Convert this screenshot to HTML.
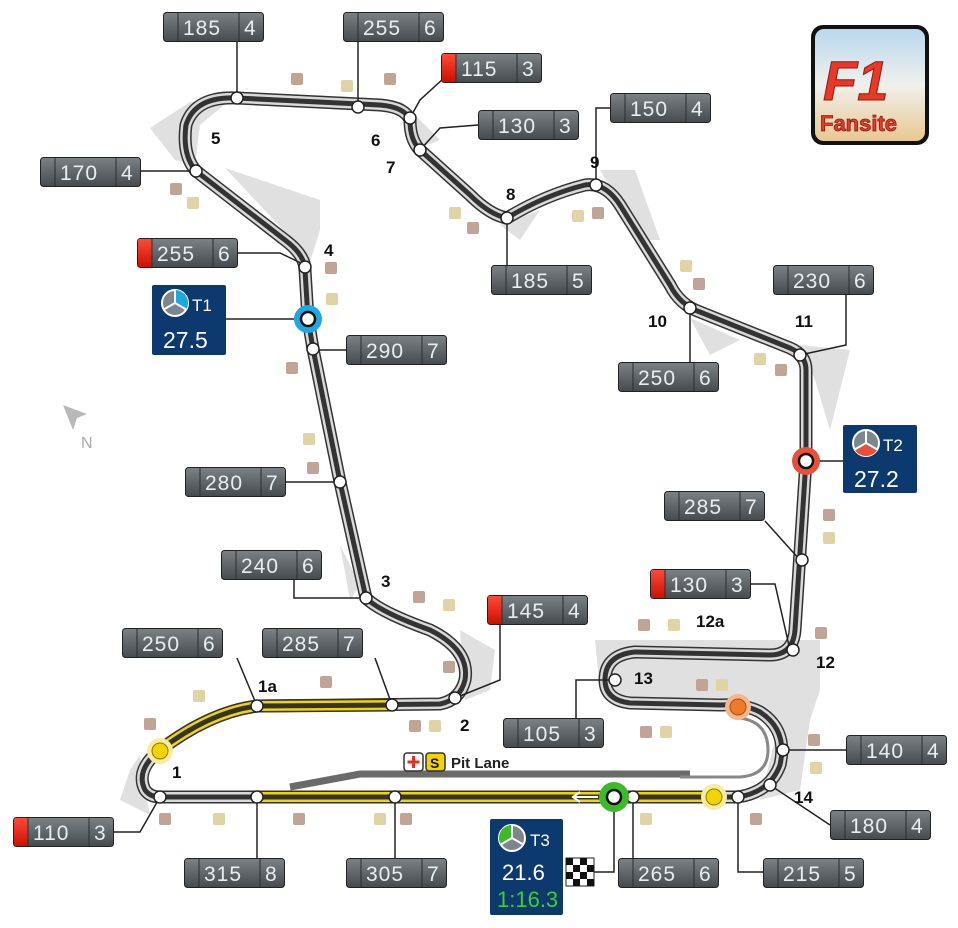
<!DOCTYPE html>
<html><head><meta charset="utf-8"><style>
html,body{margin:0;padding:0;background:#fff;width:958px;height:928px;overflow:hidden}
svg{display:block}
.d{font-family:"Liberation Sans",sans-serif;font-size:21px;fill:#e8eef0;letter-spacing:1px}
.n{font-family:"Liberation Sans",sans-serif;font-size:17px;font-weight:bold;fill:#111}
</style></head><body>
<svg width="958" height="928" viewBox="0 0 958 928" xmlns="http://www.w3.org/2000/svg">
<defs>
<linearGradient id="lg" x1="0" y1="0" x2="0" y2="1"><stop offset="0" stop-color="#7b8286"/><stop offset="1" stop-color="#454a4e"/></linearGradient>
<linearGradient id="rg" x1="0" y1="0" x2="0" y2="1"><stop offset="0" stop-color="#ff4a3a"/><stop offset="1" stop-color="#cc1000"/></linearGradient>
<linearGradient id="fl" x1="0" y1="0" x2="0" y2="1"><stop offset="0" stop-color="#b8d8ee"/><stop offset="0.5" stop-color="#f0f0ec"/><stop offset="1" stop-color="#e8c890"/></linearGradient>
<g id="lab"><rect x="0.5" y="0.5" width="100" height="29" rx="3" fill="url(#lg)" stroke="#222"/><line x1="15" y1="1" x2="15" y2="29" stroke="#2a2e30"/><line x1="76" y1="1" x2="76" y2="29" stroke="#2a2e30"/></g>
<g id="labr"><rect x="0.5" y="0.5" width="100" height="29" rx="3" fill="url(#lg)" stroke="#222"/><rect x="1" y="1" width="14" height="28" rx="2" fill="url(#rg)"/><line x1="15" y1="1" x2="15" y2="29" stroke="#2a2e30"/><line x1="76" y1="1" x2="76" y2="29" stroke="#2a2e30"/></g>
<path id="trk" d="M160 797 L738 797 Q770 792 780 765 Q788 730 760 712 Q745 704 720 705 L630 703 Q605 700 605 680 Q605 655 635 652 L770 655 Q793 655 795 630 L806 460 L806 370 Q806 355 790 348 L700 312 Q680 305 670 285 L620 205 Q605 182 585 185 Q545 195 507 218 Q490 215 470 195 L420 150 Q410 140 410 120 Q405 107 380 105 L237 98 Q195 96 186 125 Q182 155 196 171 L285 240 Q305 255 305 270 L308 319 L313 349 L340 482 L366 598 Q380 612 430 630 Q470 650 465 680 Q460 700 440 704 L257 706 Q210 712 160 750 Q135 770 145 790 Q150 797 160 797 Z"/>
<path id="yel1" d="M160 750 Q210 712 257 706 L392 705"/>
<path id="yel2" d="M257 797 L715 797"/>
</defs>

<!-- runoff areas -->
<g fill="#e0e0e0">
<path d="M150 128 L190 102 L230 100 L200 125 L195 165 L175 160 Z"/>
<path d="M225 168 L320 200 L320 230 L310 262 L285 232 Z"/>
<path d="M400 100 L440 140 L420 148 Z"/>
<path d="M500 225 L540 210 L520 240 Z"/>
<path d="M600 170 L635 170 L660 240 L640 240 Z"/>
<path d="M690 318 L740 340 L710 355 Z"/>
<path d="M800 345 L850 350 L830 430 L815 380 Z"/>
<path d="M340 545 L360 585 L350 600 Z"/>
<path d="M460 630 L495 650 L490 690 L465 700 Z"/>
<path d="M140 755 L130 770 L120 800 L150 815 L145 790 Z"/>
<path d="M595 640 L820 640 L820 690 L810 720 L800 790 L760 800 L780 720 L720 700 L640 700 L600 690 Z"/>
</g>

<!-- pit lane -->
<path d="M290 787 L360 774 L690 774" stroke="#6a6a6a" stroke-width="7" fill="none"/>
<path d="M360 781 L620 781" stroke="#ffffff" stroke-width="2" fill="none"/>
<path d="M680 777 L740 777 Q768 775 768 750 Q768 722 740 718" stroke="#888" stroke-width="3" fill="none"/>

<!-- track -->
<g fill="none" stroke-linecap="round" stroke-linejoin="round">
<use href="#trk" stroke="#333" stroke-width="13"/>
<use href="#trk" stroke="#d9d9d9" stroke-width="10"/>
<use href="#trk" stroke="#333" stroke-width="5"/>
<use href="#yel1" stroke="#333" stroke-width="13"/>
<use href="#yel1" stroke="#f2d400" stroke-width="10"/>
<use href="#yel1" stroke="#333" stroke-width="5"/>
<use href="#yel2" stroke="#333" stroke-width="13"/>
<use href="#yel2" stroke="#f2d400" stroke-width="10"/>
<use href="#yel2" stroke="#333" stroke-width="5"/>
</g>
<path d="M598 797 L574 797 M580 792 L573 797 L580 802" stroke="#fff" stroke-width="2" fill="none"/>

<!-- connector lines -->
<g stroke="#222" stroke-width="1.5" fill="none">
<path d="M237 42 V98"/><path d="M358 42 V107"/><path d="M455 68 L420 100 L410 118"/>
<path d="M478 125 L440 128 L420 150"/><path d="M610 108 H596 V185"/><path d="M141 171 H196"/>
<path d="M238 253 H280 L305 265"/><path d="M226 319 H308"/><path d="M346 350 H313"/>
<path d="M507 265 V218"/><path d="M846 295 V345 L800 355"/><path d="M690 362 V308"/>
<path d="M806 461 H843"/><path d="M286 482 H340"/><path d="M765 521 L800 560"/>
<path d="M294 580 V598 H366"/><path d="M751 584 H775 L790 650"/><path d="M500 625 V680 L455 698"/>
<path d="M237 658 L257 706"/><path d="M375 658 L392 705"/><path d="M576 718 V680 H615"/>
<path d="M783 750 H846"/><path d="M770 785 L830 825"/><path d="M114 832 H140 L160 797"/>
<path d="M257 797 V858"/><path d="M395 797 V858"/><path d="M633 797 V858"/>
<path d="M738 797 V872 H763"/><path d="M594 872 H614 V797"/>
</g>

<!-- markers -->
<g fill="#fff" stroke="#222" stroke-width="1.5">
<circle cx="237" cy="98" r="6"/><circle cx="358" cy="107" r="6"/><circle cx="410" cy="118" r="6"/>
<circle cx="420" cy="150" r="6"/><circle cx="596" cy="185" r="6"/><circle cx="196" cy="171" r="6"/>
<circle cx="305" cy="267" r="6"/><circle cx="313" cy="349" r="6"/><circle cx="507" cy="218" r="6"/>
<circle cx="800" cy="355" r="6"/><circle cx="690" cy="308" r="6"/><circle cx="340" cy="482" r="6"/>
<circle cx="802" cy="560" r="6"/><circle cx="366" cy="598" r="6"/><circle cx="793" cy="650" r="6"/>
<circle cx="455" cy="698" r="6"/><circle cx="257" cy="706" r="6"/><circle cx="392" cy="705" r="6"/>
<circle cx="615" cy="680" r="6"/><circle cx="783" cy="750" r="6"/><circle cx="770" cy="785" r="6"/>
<circle cx="160" cy="797" r="6"/><circle cx="257" cy="797" r="6"/><circle cx="395" cy="797" r="6"/>
<circle cx="633" cy="797" r="6"/><circle cx="738" cy="797" r="6"/>
</g>
<circle cx="308" cy="319" r="14" fill="#1ea8df"/><circle cx="308" cy="319" r="7" fill="#fff" stroke="#111" stroke-width="2.5"/>
<circle cx="806" cy="461" r="14" fill="#e8503a"/><circle cx="806" cy="461" r="7" fill="#fff" stroke="#111" stroke-width="2.5"/>
<circle cx="614" cy="797" r="15" fill="#3cba2a"/><circle cx="614" cy="797" r="7" fill="#fff" stroke="#111" stroke-width="2.5"/>
<circle cx="738" cy="707" r="13" fill="#f6b58a"/><circle cx="738" cy="707" r="8" fill="#f07a28" stroke="#a05018" stroke-width="1"/>
<circle cx="160" cy="751" r="13" fill="#f7eca0"/><circle cx="160" cy="751" r="8" fill="#f2d400" stroke="#8a7a00" stroke-width="1"/>
<circle cx="714" cy="797" r="13" fill="#f7eca0"/><circle cx="714" cy="797" r="8" fill="#f2d400" stroke="#8a7a00" stroke-width="1"/>

<!-- small squares -->
<g>
<g fill="#c0a496">
<rect x="291" y="73" width="12" height="12" rx="2"/><rect x="384" y="73" width="12" height="12" rx="2"/><rect x="170" y="183" width="12" height="12" rx="2"/>
<rect x="467" y="222" width="12" height="12" rx="2"/><rect x="592" y="207" width="12" height="12" rx="2"/><rect x="325" y="262" width="12" height="12" rx="2"/>
<rect x="693" y="278" width="12" height="12" rx="2"/><rect x="286" y="362" width="12" height="12" rx="2"/><rect x="775" y="364" width="12" height="12" rx="2"/>
<rect x="307" y="462" width="12" height="12" rx="2"/><rect x="823" y="509" width="12" height="12" rx="2"/><rect x="413" y="591" width="12" height="12" rx="2"/>
<rect x="638" y="619" width="12" height="12" rx="2"/><rect x="815" y="627" width="12" height="12" rx="2"/><rect x="443" y="661" width="12" height="12" rx="2"/>
<rect x="320" y="676" width="12" height="12" rx="2"/><rect x="696" y="679" width="12" height="12" rx="2"/><rect x="409" y="720" width="12" height="12" rx="2"/>
<rect x="144" y="718" width="12" height="12" rx="2"/><rect x="640" y="726" width="12" height="12" rx="2"/><rect x="808" y="734" width="12" height="12" rx="2"/>
<rect x="159" y="813" width="12" height="12" rx="2"/><rect x="293" y="813" width="12" height="12" rx="2"/><rect x="400" y="813" width="12" height="12" rx="2"/>
<rect x="750" y="813" width="12" height="12" rx="2"/>
</g>
<g fill="#e0d4a6">
<rect x="341" y="80" width="12" height="12" rx="2"/><rect x="187" y="197" width="12" height="12" rx="2"/><rect x="449" y="207" width="12" height="12" rx="2"/>
<rect x="572" y="210" width="12" height="12" rx="2"/><rect x="326" y="293" width="12" height="12" rx="2"/><rect x="680" y="260" width="12" height="12" rx="2"/>
<rect x="754" y="353" width="12" height="12" rx="2"/><rect x="303" y="433" width="12" height="12" rx="2"/><rect x="823" y="532" width="12" height="12" rx="2"/>
<rect x="443" y="599" width="12" height="12" rx="2"/><rect x="668" y="619" width="12" height="12" rx="2"/><rect x="429" y="720" width="12" height="12" rx="2"/>
<rect x="716" y="679" width="12" height="12" rx="2"/><rect x="193" y="690" width="12" height="12" rx="2"/><rect x="660" y="726" width="12" height="12" rx="2"/>
<rect x="810" y="762" width="12" height="12" rx="2"/><rect x="213" y="813" width="12" height="12" rx="2"/><rect x="374" y="813" width="12" height="12" rx="2"/>
<rect x="640" y="813" width="12" height="12" rx="2"/>
</g>
</g>

<!-- corner numbers -->
<g>
<text x="211" y="144" class="n">5</text><text x="371" y="146" class="n">6</text><text x="386" y="173" class="n">7</text>
<text x="506" y="200" class="n">8</text><text x="590" y="168" class="n">9</text><text x="648" y="327" class="n">10</text>
<text x="795" y="327" class="n">11</text><text x="324" y="256" class="n">4</text><text x="381" y="587" class="n">3</text>
<text x="460" y="731" class="n">2</text><text x="258" y="692" class="n">1a</text><text x="172" y="778" class="n">1</text>
<text x="696" y="627" class="n">12a</text><text x="816" y="668" class="n">12</text><text x="634" y="684" class="n">13</text>
<text x="794" y="803" class="n">14</text>
</g>

<!-- labels -->
<g><use href="#lab" x="163" y="12"/><text class="d" x="183" y="35">185</text><text class="d" x="244" y="35">4</text></g>
<g><use href="#lab" x="343" y="12"/><text class="d" x="363" y="35">255</text><text class="d" x="424" y="35">6</text></g>
<g><use href="#labr" x="441" y="53"/><text class="d" x="461" y="76">115</text><text class="d" x="522" y="76">3</text></g>
<g><use href="#lab" x="478" y="110"/><text class="d" x="498" y="133">130</text><text class="d" x="559" y="133">3</text></g>
<g><use href="#lab" x="610" y="93"/><text class="d" x="630" y="116">150</text><text class="d" x="691" y="116">4</text></g>
<g><use href="#lab" x="40" y="157"/><text class="d" x="60" y="180">170</text><text class="d" x="121" y="180">4</text></g>
<g><use href="#labr" x="137" y="238"/><text class="d" x="157" y="261">255</text><text class="d" x="218" y="261">6</text></g>
<g><use href="#lab" x="346" y="335"/><text class="d" x="366" y="358">290</text><text class="d" x="427" y="358">7</text></g>
<g><use href="#lab" x="491" y="265"/><text class="d" x="511" y="288">185</text><text class="d" x="572" y="288">5</text></g>
<g><use href="#lab" x="773" y="265"/><text class="d" x="793" y="288">230</text><text class="d" x="854" y="288">6</text></g>
<g><use href="#lab" x="618" y="362"/><text class="d" x="638" y="385">250</text><text class="d" x="699" y="385">6</text></g>
<g><use href="#lab" x="185" y="467"/><text class="d" x="205" y="490">280</text><text class="d" x="266" y="490">7</text></g>
<g><use href="#lab" x="664" y="491"/><text class="d" x="684" y="514">285</text><text class="d" x="745" y="514">7</text></g>
<g><use href="#lab" x="221" y="550"/><text class="d" x="241" y="573">240</text><text class="d" x="302" y="573">6</text></g>
<g><use href="#labr" x="650" y="569"/><text class="d" x="670" y="592">130</text><text class="d" x="731" y="592">3</text></g>
<g><use href="#labr" x="487" y="595"/><text class="d" x="507" y="618">145</text><text class="d" x="568" y="618">4</text></g>
<g><use href="#lab" x="122" y="628"/><text class="d" x="142" y="651">250</text><text class="d" x="203" y="651">6</text></g>
<g><use href="#lab" x="262" y="628"/><text class="d" x="282" y="651">285</text><text class="d" x="343" y="651">7</text></g>
<g><use href="#lab" x="503" y="718"/><text class="d" x="523" y="741">105</text><text class="d" x="584" y="741">3</text></g>
<g><use href="#lab" x="846" y="735"/><text class="d" x="866" y="758">140</text><text class="d" x="927" y="758">4</text></g>
<g><use href="#lab" x="830" y="810"/><text class="d" x="850" y="833">180</text><text class="d" x="911" y="833">4</text></g>
<g><use href="#labr" x="13" y="817"/><text class="d" x="33" y="840">110</text><text class="d" x="94" y="840">3</text></g>
<g><use href="#lab" x="184" y="858"/><text class="d" x="204" y="881">315</text><text class="d" x="265" y="881">8</text></g>
<g><use href="#lab" x="346" y="858"/><text class="d" x="366" y="881">305</text><text class="d" x="427" y="881">7</text></g>
<g><use href="#lab" x="618" y="858"/><text class="d" x="638" y="881">265</text><text class="d" x="699" y="881">6</text></g>
<g><use href="#lab" x="763" y="858"/><text class="d" x="783" y="881">215</text><text class="d" x="844" y="881">5</text></g>

<!-- sector boxes -->
<g>
<rect x="152" y="285" width="74" height="70" rx="2" fill="#0d3a6e"/>
<circle cx="175" cy="303" r="13" fill="#7c868c" stroke="#fff" stroke-width="2"/>
<path d="M175 303 V290 A13 13 0 0 1 186.3 309.5 Z" fill="#1ea8df"/>
<path d="M175 303 V290 M175 303 L163.7 309.5 M175 303 L186.3 309.5" stroke="#fff" stroke-width="2"/>
<text x="192" y="311" font-family="Liberation Sans,sans-serif" font-size="17" fill="#fff">T1</text>
<text x="163" y="348" font-family="Liberation Sans,sans-serif" font-size="23" fill="#fff">27.5</text>
</g>
<g>
<rect x="843" y="425" width="74" height="68" rx="2" fill="#0d3a6e"/>
<circle cx="866" cy="443" r="13" fill="#7c868c" stroke="#fff" stroke-width="2"/>
<path d="M866 443 L877.3 449.5 A13 13 0 0 1 854.7 449.5 Z" fill="#e8503a"/>
<path d="M866 443 V430 M866 443 L854.7 449.5 M866 443 L877.3 449.5" stroke="#fff" stroke-width="2"/>
<text x="883" y="451" font-family="Liberation Sans,sans-serif" font-size="17" fill="#fff">T2</text>
<text x="854" y="487" font-family="Liberation Sans,sans-serif" font-size="23" fill="#fff">27.2</text>
</g>
<g>
<rect x="490" y="819" width="73" height="96" rx="2" fill="#0d3a6e"/>
<circle cx="512" cy="838" r="13" fill="#7c868c" stroke="#fff" stroke-width="2"/>
<path d="M512 838 V825 A13 13 0 0 0 500.7 844.5 Z" fill="#3cba2a"/>
<path d="M512 838 V825 M512 838 L500.7 844.5 M512 838 L523.3 844.5" stroke="#fff" stroke-width="2"/>
<text x="530" y="846" font-family="Liberation Sans,sans-serif" font-size="17" fill="#fff">T3</text>
<text x="502" y="880" font-family="Liberation Sans,sans-serif" font-size="22" fill="#fff">21.6</text>
<text x="497" y="907" font-family="Liberation Sans,sans-serif" font-size="22" fill="#3ccf2a">1:16.3</text>
</g>
<!-- checkered flag -->
<g transform="translate(566,858)">
<rect width="28" height="28" fill="#fff" stroke="#222"/>
<g fill="#111"><rect x="0" y="0" width="7" height="7"/><rect x="14" y="0" width="7" height="7"/><rect x="7" y="7" width="7" height="7"/><rect x="21" y="7" width="7" height="7"/><rect x="0" y="14" width="7" height="7"/><rect x="14" y="14" width="7" height="7"/><rect x="7" y="21" width="7" height="7"/><rect x="21" y="21" width="7" height="7"/></g>
</g>

<!-- pit lane legend -->
<rect x="404" y="753" width="19" height="18" rx="3" fill="#fff" stroke="#333" stroke-width="1.5"/>
<path d="M413.5 756 V768 M407.5 762 H419.5" stroke="#e83020" stroke-width="3"/>
<rect x="426" y="753" width="19" height="18" rx="3" fill="#f2d400" stroke="#333" stroke-width="1.5"/>
<text x="430" y="768" font-family="Liberation Sans,sans-serif" font-size="14" font-weight="bold" fill="#111">S</text>
<text x="451" y="768" font-family="Liberation Sans,sans-serif" font-size="15" font-weight="bold" fill="#222">Pit Lane</text>

<!-- north arrow -->
<path d="M63 405 L87 414 L77 418 L73 430 Z" fill="#b8b8b8"/>
<text x="81" y="448" font-family="Liberation Sans,sans-serif" font-size="16" fill="#aaa">N</text>

<!-- F1 logo -->
<rect x="811" y="25" width="118" height="120" rx="12" fill="#111"/>
<rect x="815" y="29" width="110" height="112" rx="9" fill="url(#fl)"/>
<text x="823" y="100" font-family="Liberation Sans,sans-serif" font-size="56" font-weight="bold" font-style="italic" fill="#e83828" stroke="#8a1a10" stroke-width="1">F1</text>
<text x="820" y="131" font-family="Liberation Sans,sans-serif" font-size="22" font-weight="bold" fill="#e83828" stroke="#8a1a10" stroke-width="0.8">Fansite</text>
</svg>
</body></html>
